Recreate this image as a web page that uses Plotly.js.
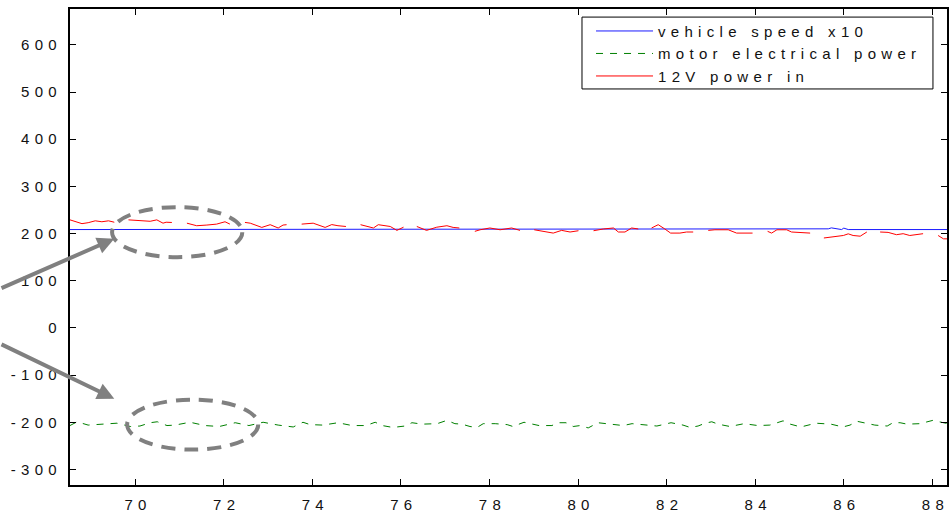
<!DOCTYPE html>
<html>
<head>
<meta charset="utf-8">
<script src="https://cdn.plot.ly/plotly-3.0.1.min.js"></script>
<style>
  html, body { margin: 0; padding: 0; background: #fff; }
  #chart { width: 949px; height: 513px; }
  .legendtext, .xtick text, .ytick text { letter-spacing: 5.3px; }
</style>
</head>
<body>
<div id="chart"></div>
<script>
// ---- data ----
const speedX = [68.53, 85.55, 85.65, 85.72, 85.85, 85.95, 86.0, 86.1, 88.35];
const speedY = [208.5, 208.5, 210, 212, 210.5, 208.5, 211.5, 208.5, 208.5];

const motorX = [68.53, 68.69, 68.94, 69.59, 69.89, 70.11, 70.34, 70.50, 70.72, 70.90,
  71.24, 71.58, 71.90, 72.26, 72.57, 72.89, 73.23, 73.57, 73.79, 73.95,
  74.24, 74.58, 74.90, 75.21, 75.42, 75.58, 75.82, 76.09, 76.25, 76.48,
  76.82, 77.04, 77.22, 77.38, 77.56, 77.72, 77.86, 78.13, 78.40, 78.53,
  78.78, 79.12, 79.41, 79.55, 79.73, 79.89, 80.05, 80.23, 80.45, 80.79,
  81.02, 81.22, 81.44, 81.78, 82.10, 82.37, 82.53, 82.71, 82.87, 83.02,
  83.16, 83.43, 83.75, 84.06, 84.33, 84.49, 84.63, 84.79, 85.03, 85.37,
  85.71, 85.98, 86.14, 86.30, 86.43, 86.70, 86.98, 87.11, 87.27, 87.43,
  87.72, 88.01, 88.10, 88.26, 88.35];
const motorY = [-207, -199, -206, -202, -209, -208, -201, -199, -207, -206,
  -200, -207, -209, -201, -207, -200, -206, -210, -200, -205,
  -206, -201, -207, -207, -200, -207, -211, -208, -201, -204,
  -203, -196, -203, -204, -209, -211, -203, -203, -205, -209,
  -200, -207, -207, -201, -201, -209, -207, -212, -201, -204,
  -207, -203, -205, -208, -201, -206, -211, -208, -202, -199,
  -204, -209, -203, -207, -206, -201, -197, -204, -210, -202,
  -204, -210, -206, -198, -201, -206, -208, -201, -201, -204,
  -203, -196, -198, -201, -203];

// null = gap in the logged 12V power
const powerX = [68.53, 68.65, 68.80, 68.94, 69.10, 69.25, 69.40, 69.53, 69.68,
  69.85, 70.18, 70.34, 70.49, 70.63, 70.70, 70.83, 71.00,
  71.17, 71.39, 71.62, 71.84, 72.03, 72.14, 72.30,
  72.48, 72.60, 72.86, 73.05, 73.23, 73.34, 73.42, 73.60,
  73.76, 74.02, 74.29, 74.44, 74.58, 74.76, 74.95,
  75.09, 75.38, 75.49, 75.76, 75.91, 76.06, 76.20,
  76.36, 76.43, 76.58, 76.81, 77.04, 77.18, 77.32, 77.50,
  77.67, 77.79, 78.01, 78.24, 78.50, 78.69, 78.85,
  79.01, 79.22, 79.44, 79.63, 79.82, 80.01, 80.20,
  80.35, 80.57, 80.80, 80.91, 81.06, 81.21, 81.36, 81.50,
  81.66, 81.81, 81.96, 82.09, 82.30, 82.45, 82.60, 82.75,
  82.94, 83.09, 83.39, 83.58, 83.94, 84.10,
  84.28, 84.37, 84.49, 84.71, 84.82, 85.24, 85.40,
  85.55, 85.84, 85.99, 86.10, 86.21, 86.37, 86.52, 86.65,
  86.82, 87.00, 87.19, 87.34, 87.49, 87.79, 87.95,
  88.13, 88.25, 88.35];
const powerY = [229, 226, 221, 223, 227, 225, 227, 224, null,
  229, 227, 226, 229, 222, 224, 223.5, null,
  222, 216.6, 218, 220, 225, 220, null,
  223.6, 222, 213, 218.8, 211.8, 218, 218.8, null,
  220, 222, 213, 219, 216.6, 215, null,
  218.8, 211.8, 218.8, 215, 206.7, 213.5, null,
  215, 212, 206.7, 213.5, 216.6, 213, 211.8, null,
  204.7, 208, 211.8, 208, 211.8, 206.7, null,
  208, 204.7, 201, 206.7, 203.3, 206, null,
  206, 209.7, 211.8, 203.3, 203.3, 211.8, 209.7, null,
  211.8, 218.8, 209.7, 201, 201, 203.3, 203.3, null,
  206.7, 208, 208, 201, 201, null,
  204.7, 201, 208, 208, 203.3, 201, null,
  190.6, 194.4, 195.9, 199.4, 195.9, 194.4, 203.3, null,
  203.3, 202.5, 197.6, 199.7, 195.9, 199.7, null,
  195.9, 188.8, 188.8];

const xTicks = [70, 72, 74, 76, 78, 80, 82, 84, 86, 88];
const yTicks = [-300, -200, -100, 0, 100, 200, 300, 400, 500, 600];
const seriesNames = ['vehicle speed x10', 'motor electrical power', '12V power in'];

// ---- chart ----
const traces = [
  { x: speedX, y: speedY, name: seriesNames[0], type: 'scatter', mode: 'lines',
    line: { color: '#1a1aff', width: 1 } },
  { x: motorX, y: motorY, name: seriesNames[1], type: 'scatter', mode: 'lines',
    line: { color: '#008000', width: 1, dash: '7px,7px' } },
  { x: powerX, y: powerY, name: seriesNames[2], type: 'scatter', mode: 'lines',
    connectgaps: false, line: { color: '#ff0000', width: 1 } }
];

const fontFam = '"Liberation Sans", Arial, sans-serif';
const axisCommon = {
  showgrid: false, zeroline: false, showline: true, linecolor: '#000', linewidth: 2,
  mirror: 'ticks', ticks: 'inside', ticklen: 6, tickcolor: '#000', tickwidth: 1,
  ticklabeloverflow: 'allow',
  tickfont: { family: fontFam, size: 15, color: '#111' }
};

const grey = '#808080';
const layout = {
  width: 949, height: 513,
  margin: { l: 70, r: 2, t: 9, b: 28 },
  paper_bgcolor: '#fff', plot_bgcolor: '#fff',
  font: { family: fontFam, size: 15, color: '#111' },
  xaxis: Object.assign({}, axisCommon, { range: [68.53, 88.33], tickmode: 'array',
    tickvals: xTicks, ticktext: xTicks.map(String), ticklabelstandoff: 5, ticklabelshift: 3 }),
  yaxis: Object.assign({}, axisCommon, { range: [-333, 676], tickmode: 'array',
    tickvals: yTicks, ticktext: yTicks.map(String), ticklabelstandoff: 3 }),
  showlegend: true,
  legend: {
    x: 0.5941, y: 0.988, xanchor: 'left', yanchor: 'top', itemwidth: 57,
    bgcolor: 'rgba(0,0,0,0)', borderwidth: 0,
    font: { family: fontFam, size: 15, color: '#111' }
  },
  shapes: [
    { type: 'rect', xref: 'paper', yref: 'paper', x0: 0.5838, x1: 0.9840, y0: 0.832, y1: 0.983,
      line: { color: '#000', width: 1 }, fillcolor: '#fff', layer: 'above' },
    { type: 'circle', xref: 'x', yref: 'y', x0: 69.48, x1: 72.42, y0: 150, y1: 256,
      line: { color: grey, width: 4, dash: '14px,9px' } },
    { type: 'circle', xref: 'x', yref: 'y', x0: 69.82, x1: 72.78, y0: -258, y1: -152,
      line: { color: grey, width: 4, dash: '14px,9px' } }
  ],
  annotations: [
    { x: 69.53, y: 189, xref: 'x', yref: 'y', text: '', showarrow: true,
      ax: -120, ay: 50, arrowhead: 2, arrowsize: 0.85, arrowwidth: 4, arrowcolor: grey, standoff: 0 },
    { x: 69.53, y: -150, xref: 'x', yref: 'y', text: '', showarrow: true,
      ax: -120, ay: -55, arrowhead: 2, arrowsize: 0.85, arrowwidth: 4, arrowcolor: grey, standoff: 0 }
  ]
};

Plotly.newPlot('chart', traces, layout, { displayModeBar: false, staticPlot: true });
</script>
</body>
</html>
